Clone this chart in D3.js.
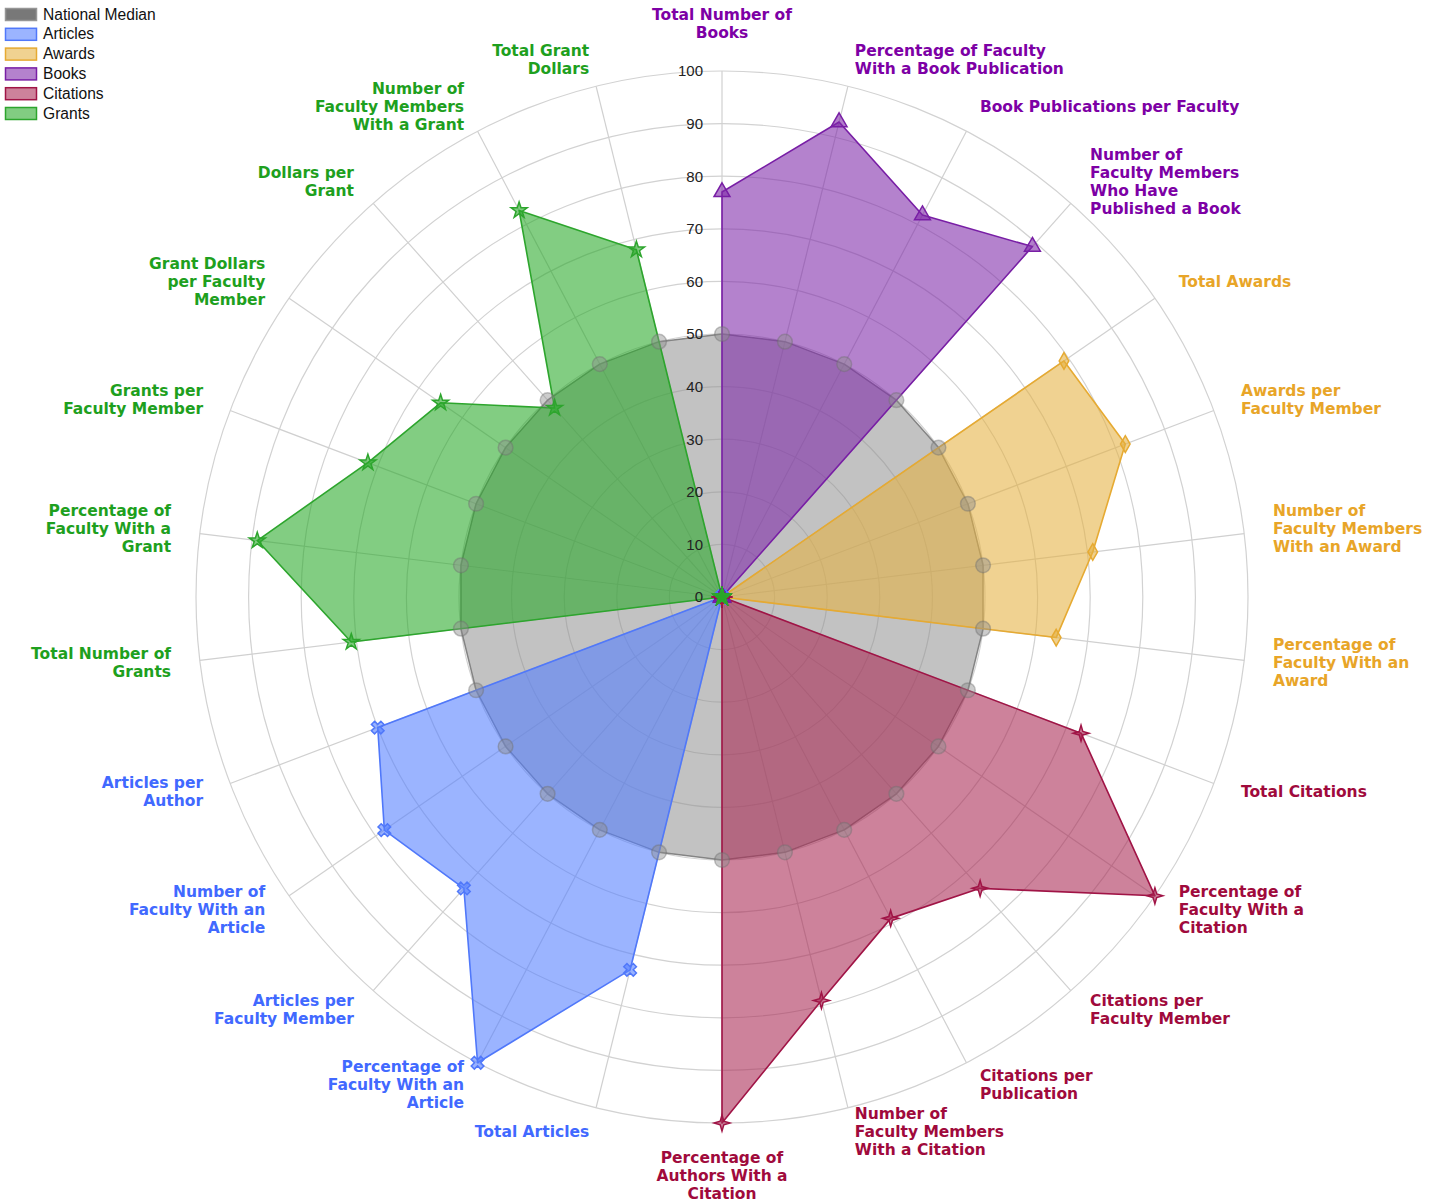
<!DOCTYPE html>
<html>
<head>
<meta charset="utf-8">
<script src="https://cdn.jsdelivr.net/npm/d3@7"></script>
<style>
html,body{margin:0;padding:0;background:#fff;}
svg{display:block;}
</style>
</head>
<body>
<svg id="chart" width="1440" height="1204"></svg>
<script>
// ---------- DATA ----------
const categories = [
  "Total Number of\nBooks",
  "Percentage of Faculty\nWith a Book Publication",
  "Book Publications per Faculty",
  "Number of\nFaculty Members\nWho Have\nPublished a Book",
  "Total Awards",
  "Awards per\nFaculty Member",
  "Number of\nFaculty Members\nWith an Award",
  "Percentage of\nFaculty With an\nAward",
  "Total Citations",
  "Percentage of\nFaculty With a\nCitation",
  "Citations per\nFaculty Member",
  "Citations per\nPublication",
  "Number of\nFaculty Members\nWith a Citation",
  "Percentage of\nAuthors With a\nCitation",
  "Total Articles",
  "Percentage of\nFaculty With an\nArticle",
  "Articles per\nFaculty Member",
  "Number of\nFaculty With an\nArticle",
  "Articles per\nAuthor",
  "Total Number of\nGrants",
  "Percentage of\nFaculty With a\nGrant",
  "Grants per\nFaculty Member",
  "Grant Dollars\nper Faculty\nMember",
  "Dollars per\nGrant",
  "Number of\nFaculty Members\nWith a Grant",
  "Total Grant\nDollars"
];
// which series each category belongs to (for label colour)
const categoryGroup = [
  "Books","Books","Books","Books",
  "Awards","Awards","Awards","Awards",
  "Citations","Citations","Citations","Citations","Citations","Citations",
  "Articles","Articles","Articles","Articles","Articles",
  "Grants","Grants","Grants","Grants","Grants","Grants","Grants"
];
const seriesNames = ["National Median","Articles","Awards","Books","Citations","Grants"];
const nationalMedian = [50,50,50,50,50,50,50,50,50,50,50,50,50,50,50,50,50,50,50,50,50,50,50,50,50,50];
const articles  = [0,0,0,0,0,0,0,0,0,0,0,0,0,0,73,100,74,78,70,0,0,0,0,0,0,0];
const awards    = [0,0,0,0,79,82,71,64,0,0,0,0,0,0,0,0,0,0,0,0,0,0,0,0,0,0];
const books     = [77,93,82,89,0,0,0,0,0,0,0,0,0,0,0,0,0,0,0,0,0,0,0,0,0,0];
const citations = [0,0,0,0,0,0,0,0,73,100,74,69,79,100,0,0,0,0,0,0,0,0,0,0,0,0];
const grants    = [0,0,0,0,0,0,0,0,0,0,0,0,0,0,0,0,0,0,0,71,89,72,65,48,83,68];
const tickValues = [0,10,20,30,40,50,60,70,80,90,100];

// ---------- STYLE ----------
const style = {
  "National Median": {fill:"rgb(143,143,143)", stroke:"rgba(110,110,110,0.8)", label:"#555", swatch:"rgb(120,120,120)", swStroke:"rgb(150,150,150)"},
  "Articles":  {fill:"rgb(83,126,255)",  stroke:"rgb(80,120,250)",  label:"rgb(65,105,255)"},
  "Awards":    {fill:"rgb(229,177,65)",  stroke:"rgb(230,170,50)",  label:"rgb(232,165,40)"},
  "Books":     {fill:"rgb(126,40,169)",  stroke:"rgb(120,30,165)",  label:"rgb(125,0,165)"},
  "Citations": {fill:"rgb(169,40,83)",   stroke:"rgb(160,20,70)",   label:"rgb(160,10,60)"},
  "Grants":    {fill:"rgb(40,169,40)",   stroke:"rgb(45,165,45)",   label:"rgb(30,160,30)"}
};
const seriesData = {
  "National Median": nationalMedian, "Articles": articles, "Awards": awards,
  "Books": books, "Citations": citations, "Grants": grants
};

const cx = 722, cy = 597, R = 526;
const N = categories.length;
const svg = d3.select("#chart");
const r = d3.scaleLinear().domain([0,100]).range([0,R]);
const ang = d3.scaleLinear().domain([0,N]).range([0,2*Math.PI]);

const g = svg.append("g").attr("transform",`translate(${cx},${cy})`);

// grid circles
g.append("g").selectAll("circle").data(tickValues.filter(d=>d>0)).join("circle")
  .attr("r", d=>r(d)).attr("fill","none").attr("stroke","#d2d2d2").attr("stroke-width",1.2);
// spokes
g.append("g").selectAll("line").data(d3.range(N)).join("line")
  .attr("x1",0).attr("y1",0)
  .attr("x2", i=>r(100)*Math.sin(ang(i)))
  .attr("y2", i=>-r(100)*Math.cos(ang(i)))
  .attr("stroke","#d0d0d0").attr("stroke-width",1.2);

// areas
const radial = d3.lineRadial().angle((d,i)=>ang(i)).radius(d=>r(d)).curve(d3.curveLinearClosed);
seriesNames.forEach(name=>{
  const s = style[name];
  g.append("path").datum(seriesData[name]).attr("d", radial)
    .attr("fill", s.fill).attr("fill-opacity", name==="National Median"?0.55:0.58)
    .attr("stroke", s.stroke).attr("stroke-width", name==="National Median"?1.5:1.6)
    .attr("stroke-linejoin","round");
});

// markers
function star4(size){
  const o = size/2, in_ = size*0.16;
  const pts = [];
  for(let k=0;k<8;k++){
    const a = k*Math.PI/4;
    const rr = k%2===0 ? o : in_;
    pts.push([rr*Math.sin(a), -rr*Math.cos(a)]);
  }
  return "M"+pts.map(p=>p.join(",")).join("L")+"Z";
}
const markerFor = {
  "National Median": ()=>d3.symbol(d3.symbolCircle, 170)(),
  "Articles": ()=>d3.symbol(d3.symbolCross, 100)(),
  "Awards": ()=>d3.symbol(d3.symbolDiamond, 80)(),
  "Books": ()=>d3.symbol(d3.symbolTriangle, 110)(),
  "Citations": ()=>star4(16),
  "Grants": ()=>d3.symbol(d3.symbolStar, 80)()
};
seriesNames.forEach(name=>{
  const s = style[name];
  const path = markerFor[name]();
  g.append("g").selectAll("path").data(seriesData[name]).join("path")
    .attr("d", path)
    .attr("transform",(d,i)=>{
      const x = r(d)*Math.sin(ang(i)), y = -r(d)*Math.cos(ang(i));
      return `translate(${x},${y})` + (name==="Articles"?" rotate(45)":"");
    })
    .attr("fill", s.fill).attr("fill-opacity", name==="National Median"?0.45:0.6)
    .attr("stroke", s.stroke).attr("stroke-opacity", name==="National Median"?0.5:1)
    .attr("stroke-width",1.5);
});

// tick labels
g.append("g").selectAll("text").data(tickValues).join("text")
  .attr("x",-19).attr("y", d=>-r(d)).attr("dy","0.36em")
  .attr("text-anchor","end")
  .style("font-family","'Liberation Sans', Arial, sans-serif").style("font-size","15px")
  .attr("fill","#222").text(d=>d);

// category labels
const LR = 555, LH = 18;
categories.forEach((lab,i)=>{
  const a = ang(i);
  const deg = a*180/Math.PI;
  const x = LR*Math.sin(a), y = -LR*Math.cos(a);
  const lines = lab.split("\n");
  let anchor, y0;
  if (Math.abs(deg) < 1) { anchor="middle"; y0 = y - 4 - (lines.length-1)*LH; }
  else if (Math.abs(deg-180) < 1) { anchor="middle"; y0 = y + 11; }
  else {
    anchor = deg < 180 ? "start" : "end";
    y0 = y - (lines.length-1)*LH/2 + 1.5 + 2.5*(1+Math.cos(a));
  }
  const t = g.append("text").attr("text-anchor",anchor)
    .style("font-family","'DejaVu Sans', Verdana, sans-serif").style("font-size","15.5px")
    .style("font-weight","bold").attr("fill", style[categoryGroup[i]].label);
  lines.forEach((ln,k)=>{
    t.append("tspan").attr("x",x).attr("y",y0 + k*LH).text(ln);
  });
});

// legend
const leg = svg.append("g");
seriesNames.forEach((name,k)=>{
  const s = style[name];
  const yy = 8 + k*19.8;
  leg.append("rect").attr("x",5.5).attr("y",yy+0.5).attr("width",31).attr("height",12)
    .attr("fill", s.swatch || s.fill).attr("fill-opacity", s.swatch?1:0.58)
    .attr("stroke", s.swStroke || s.stroke).attr("stroke-width",1.5);
  leg.append("text").attr("x",43).attr("y",yy+11.5)
    .style("font-family","'Liberation Sans', Arial, sans-serif").style("font-size","15.6px")
    .attr("fill","#111").text(name);
});
</script>
</body>
</html>
